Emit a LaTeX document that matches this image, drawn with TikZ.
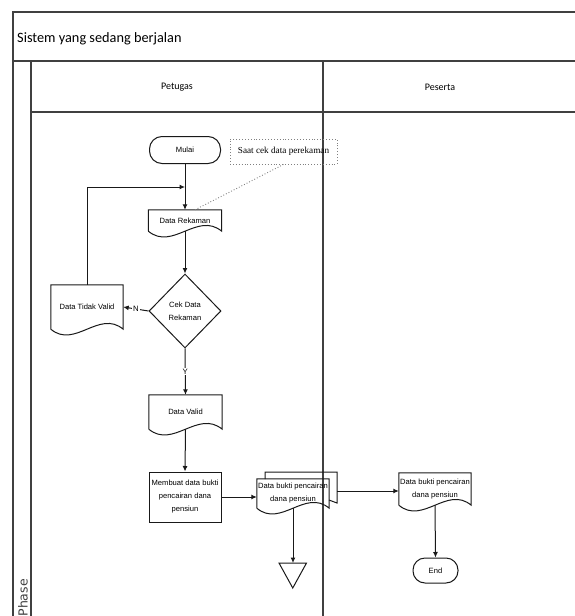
\documentclass[tikz,border=0pt]{standalone}
\usepackage{fontspec}
\setmainfont{Liberation Sans}
\newfontfamily\calfont{Carlito}
\newfontfamily\serffont{Liberation Serif}
\newfontfamily\dvfont{DejaVu Sans}
\usetikzlibrary{shapes.geometric,arrows.meta}
\tikzset{
  ln/.style={draw=black!90, line width=1pt},
  frame/.style={draw=black!75, line width=1.1pt},
  arr/.style={ln, -{Latex[length=5.5pt,width=5pt]}},
  txt/.style={font=\fontsize{7.6}{13}\selectfont, align=center, inner sep=0pt, text=black},
  term/.style={txt, ln, rounded corners=12.5pt},
  lbl/.style={font=\fontsize{7.8}{9}\selectfont, fill=white, inner sep=1pt, text=black},
  head/.style={font=\calfont\fontsize{10}{12}\selectfont, text=black}
}
\newcommand\docnode[6]{%
  \node[txt, minimum width=#4pt, minimum height=#5pt] (#1) at (#2,#3) {#6};
  \draw[ln] (#1.south west) -- (#1.north west) -- (#1.north east) -- (#1.south east)
    .. controls +(-#4/3,-20) and +(#4/3,20) .. (#1.south west);}
\begin{document}
\begin{tikzpicture}[x=1pt,y=-1pt]
\useasboundingbox (0,0) rectangle (574,616);
% frame
\draw[frame] (13,625) -- (13,12) -- (585,12);
\draw[frame] (13,61) -- (585,61);
\draw[frame] (31,61) -- (31,625);
\draw[frame] (31,112) -- (585,112);
\draw[frame] (323,61) -- (323,625);
\node[font=\calfont\fontsize{14.3}{17}\selectfont, anchor=base west, inner sep=0, text=black] (title) at (17,42) {Sistem yang sedang berjalan};
\node[head] (petugas) at (177,87) {Petugas};
\node[head] (peserta) at (440,87) {Peserta};
\node[font=\dvfont\fontsize{12.5}{14}\selectfont, rotate=90, anchor=east, inner sep=0, text=black!75] (phase) at (23,579) {Phase};
% nodes
\node[term, minimum width=71pt, minimum height=27pt] (mulai) at (185,150) {Mulai};
\node[draw=gray, dotted, line width=0.9pt, font=\serffont\fontsize{9.2}{12}\selectfont, minimum width=107pt, minimum height=25pt, inner sep=0] (note) at (283.5,151.5) {Saat cek data perekaman};
\docnode{dr}{185}{220.5}{73}{21}{Data Rekaman}
\node[txt, shape=diamond, ln, minimum width=72pt, minimum height=74pt] (cek) at (185,311) {Cek Data\\Rekaman};
\docnode{dtv}{87}{307}{72}{44}{Data Tidak Valid}
\docnode{dv}{185.5}{412}{73}{34}{Data Valid}
\node[txt, ln, minimum width=72pt, minimum height=50pt] (mb) at (185,497) {Membuat data bukti\\pencairan dana\\pensiun};
\draw[ln] (265,479) -- (265,472) -- (337,472) -- (337,503) -- (329,500);
\coordinate (mdb) at (337,491);
\docnode{mdf}{293}{493.5}{72}{29}{Data bukti pencairan\\dana pensiun}
\docnode{pd}{435}{489}{72}{32}{Data bukti pencairan\\dana pensiun}
\node[term, minimum width=45pt, minimum height=25pt, rounded corners=12pt] (end) at (435.5,570.5) {End};
\coordinate (tri) at (293,563);
\draw[ln] (279,563) -- (306.5,563) -- (292.75,588) -- cycle;
\coordinate (join) at (185,187);
% connectors
\draw[arr] (mulai.south) -- (dr.north);
\draw[dotted, gray, line width=0.9pt] (note.south) -- ([xshift=10pt]dr.north);
\draw[arr] (dtv.north) |- (join);
\draw[arr] (dr.south) -- (cek.north);
\draw[arr] (cek.west) -- node[lbl] {N} (dtv.east);
\draw[arr] (cek.south) -- node[lbl] {Y} (dv.north);
\draw[arr] (dv.south) -- (mb.north);
\draw[arr] (mb.east) -- (mb.east -| mdf.west);
\draw[arr] (mdf.south) -- (tri);
\draw[arr] (mdb) -- (mdb -| pd.west);
\draw[arr] (pd.south) -- (end.north);
\end{tikzpicture}
\end{document}
